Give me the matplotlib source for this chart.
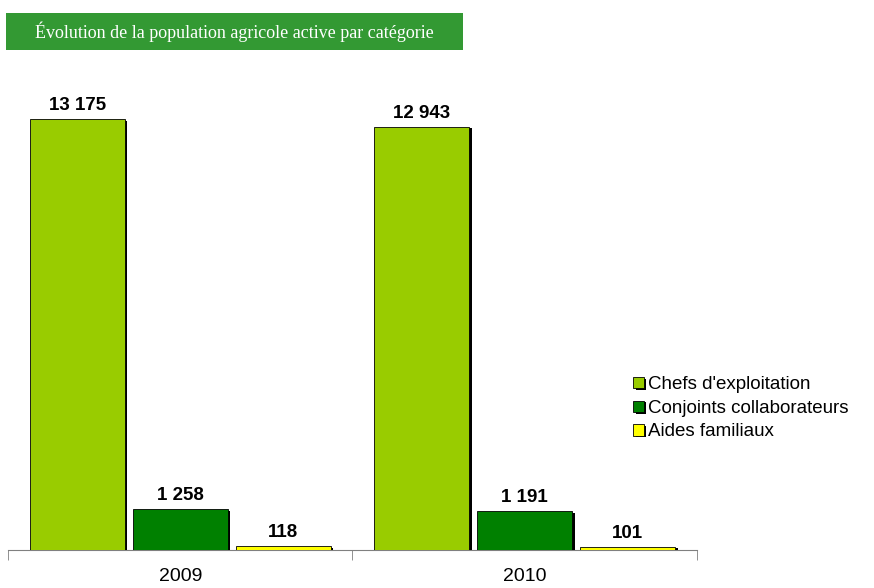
import matplotlib
matplotlib.use("Agg")
import matplotlib.pyplot as plt
import matplotlib.patheffects as pe
from matplotlib.patches import Rectangle
import numpy as np

title = "Évolution de la population agricole active par catégorie"
years = ["2009", "2010"]
categories = ["Chefs d'exploitation", "Conjoints collaborateurs", "Aides familiaux"]
chefs = [13175, 12943]
conjoints = [1258, 1191]
aides = [118, 101]
value_labels = [["13 175", "12 943"], ["1 258", "1 191"], ["118", "101"]]

colors = ["#99CC00", "#008000", "#FFFF00"]

W, H = 874, 588
fig = plt.figure(figsize=(W / 100, H / 100), dpi=100)

# title banner
fig.patches.append(Rectangle((6 / W, 1 - 50 / H), 457 / W, 37 / H,
                             transform=fig.transFigure, facecolor="#339933",
                             edgecolor="none", zorder=0))
fig.text(234 / W, 1 - 32 / H, title, ha="center", va="center", color="white",
         fontsize=13, family="Liberation Serif")

ax = fig.add_axes([8 / W, 1 - 550 / H, 689 / W, 450 / H])
ax.set_xlim(0, 2)
ax.set_ylim(0, 13175 * 450 / 431)

series = [chefs, conjoints, aides]
offsets = [-0.299, 0.0, 0.299]
width = 0.276
x = np.arange(len(years)) + 0.5
shadow = [pe.SimplePatchShadow(offset=(1.6, -1.2), shadow_rgbFace="black", alpha=1), pe.Normal()]
for vals, off, col, lab, txt in zip(series, offsets, colors, categories, value_labels):
    bars = ax.bar(x + off, vals, width, color=col, edgecolor="black", linewidth=0.6,
                  label=lab, path_effects=shadow, zorder=3)
    for b, t in zip(bars, txt):
        ax.annotate(t, (b.get_x() + b.get_width() / 2, b.get_height()),
                    xytext=(0, 3.5), textcoords="offset points", ha="center", va="bottom",
                    fontsize=13.5, fontweight="bold", family="Liberation Sans")

for s in ["top", "right", "left"]:
    ax.spines[s].set_visible(False)
ax.spines["bottom"].set_color("#808080")
ax.set_yticks([])
ax.set_xticks(x)
ax.set_xticklabels(years, fontsize=14, family="Liberation Sans")
ax.tick_params(axis="x", which="major", length=0, pad=13)
ax.set_xticks([0, 1, 2], minor=True)
ax.tick_params(axis="x", which="minor", length=7, color="#808080", direction="out")

leg = ax.legend(loc="upper left", bbox_to_anchor=(624 / W, 1 - 367 / H),
                bbox_transform=fig.transFigure, frameon=False,
                prop={"family": "Liberation Sans", "size": 13.5},
                handlelength=0.55, handleheight=0.55, handletextpad=0.25,
                labelspacing=0.35, borderpad=0)

fig.savefig("out.png", dpi=100)
